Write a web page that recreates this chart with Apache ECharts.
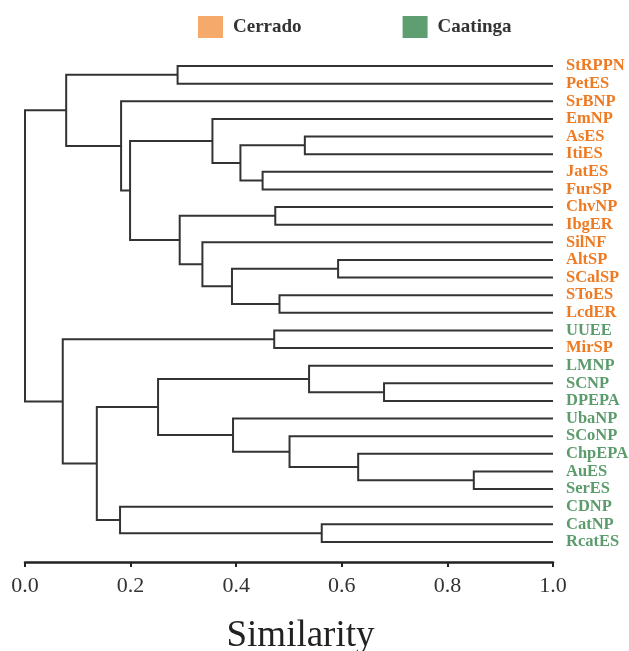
<!DOCTYPE html>
<html>
<head>
<meta charset="utf-8">
<script src="https://cdn.jsdelivr.net/npm/echarts@6/dist/echarts.min.js"></script>
<style>html,body{margin:0;padding:0;background:#fff;}#c{width:629px;height:651px;}</style>
</head>
<body>
<div id="c"></div>
<script>
// Leaves, top to bottom
const leaves = ['StRPPN','PetES','SrBNP','EmNP','AsES','ItiES','JatES','FurSP','ChvNP','IbgER','SilNF','AltSP','SCalSP','SToES','LcdER','UUEE','MirSP','LMNP','SCNP','DPEPA','UbaNP','SCoNP','ChpEPA','AuES','SerES','CDNP','CatNP','RcatES'];
const biome = ['Cerrado','Cerrado','Cerrado','Cerrado','Cerrado','Cerrado','Cerrado','Cerrado','Cerrado','Cerrado','Cerrado','Cerrado','Cerrado','Cerrado','Cerrado','Caatinga','Cerrado','Caatinga','Caatinga','Caatinga','Caatinga','Caatinga','Caatinga','Caatinga','Caatinga','Caatinga','Caatinga','Caatinga'];
// Merges: [id, childA, childB, similarity]
const mergeIds = ['n1','n2','n3','n4','n5','n6','n7','n8','n9','n10','n11','n12','n13','n14','n15','n16','n17','n18','n19','n20','n21','n22','n23','n24','n25','n26','n27'];
const mergeA =   ['StRPPN','AsES','JatES','n2','EmNP','ChvNP','AltSP','SToES','n7','SilNF','n6','n5','SrBNP','n1','UUEE','SCNP','LMNP','AuES','ChpEPA','SCoNP','UbaNP','n17','CatNP','CDNP','n22','n15','n14'];
const mergeB =   ['PetES','ItiES','FurSP','n3','n4','IbgER','SCalSP','LcdER','n8','n9','n10','n11','n12','n13','MirSP','DPEPA','n16','SerES','n18','n19','n20','n21','RcatES','n23','n24','n25','n26'];
const mergeSim = [0.289,0.530,0.450,0.408,0.355,0.474,0.593,0.482,0.392,0.336,0.293,0.199,0.182,0.078,0.472,0.680,0.538,0.850,0.631,0.501,0.394,0.252,0.562,0.180,0.136,0.0715,0.0];
const xTicks = [0, 0.2, 0.4, 0.6, 0.8, 1.0];
const legendNames = ['Cerrado','Caatinga'];
const legendColors = ['#F5A96B','#5E9E70'];
const labelColors = {Cerrado:'#EE7A22', Caatinga:'#5B9B6C'};

// Build node positions from tree structure
const pos = {};
leaves.forEach((n,i)=>{ pos[n] = {x:1.0, y:i}; });
const links = [];
mergeIds.forEach((id,i)=>{
  const a = pos[mergeA[i]], b = pos[mergeB[i]];
  const p = {x: mergeSim[i], y: (a.y + b.y)/2};
  pos[id] = p;
  links.push([p.x, a.y, b.y, a.x, b.x]);
});

const chart = echarts.init(document.getElementById('c'));
const FONT = '"Liberation Serif","Times New Roman",serif';
chart.setOption({
  animation:false,
  backgroundColor:'#fff',
  legend:{
    data:legendNames,
    left:198, top:16, padding:0,
    icon:'rect', itemWidth:25, itemHeight:22, itemGap:101,
    textStyle:{fontFamily:FONT, fontWeight:'bold', fontSize:19, color:'#333', padding:[0,0,0,5]}
  },
  grid:{left:25, right:76, top:66, bottom:109, containLabel:false, outerBoundsMode:'none'},
  xAxis:{
    type:'value', min:xTicks[0], max:xTicks[xTicks.length-1], interval:0.2, offset:20,
    axisLine:{show:true, onZero:false, lineStyle:{color:'#222', width:2.5}},
    axisTick:{show:true, length:5, lineStyle:{color:'#222', width:2}},
    axisLabel:{fontFamily:FONT, fontSize:22, color:'#333', margin:13, formatter:v=>v.toFixed(1)},
    splitLine:{show:false},
    name:'Similarity', nameLocation:'middle', nameGap:56,
    nameTextStyle:{fontFamily:FONT, fontSize:37, color:'#222', padding:[0,0,0,23]}
  },
  yAxis:[
    {type:'value', min:0, max:leaves.length-1, inverse:true, show:false},
    {type:'category', data:leaves, position:'right', inverse:true, boundaryGap:false,
     axisLine:{show:false}, axisTick:{show:false}, splitLine:{show:false},
     axisLabel:{margin:13, interval:0,
       formatter:(v,i)=> (biome[i]==='Cerrado' ? '{o|' : '{g|') + v + '}',
       rich:{
         o:{fontFamily:FONT, fontWeight:'bold', fontSize:16.5, color:labelColors.Cerrado},
         g:{fontFamily:FONT, fontWeight:'bold', fontSize:16.5, color:labelColors.Caatinga}
       }}
    }
  ],
  series:[
    {
      type:'custom', name:'tree', yAxisIndex:0, clip:false, silent:true,
      data:links,
      encode:{x:[0,3,4], y:[1,2]},
      renderItem:function(params, api){
        const p = api.value(0), ya = api.value(1), yb = api.value(2), xa = api.value(3), xb = api.value(4);
        const pts = [api.coord([xa,ya]), api.coord([p,ya]), api.coord([p,yb]), api.coord([xb,yb])];
        return {type:'polyline', shape:{points:pts}, style:{stroke:'#333', lineWidth:2, fill:null}};
      }
    },
    {type:'line', name:legendNames[0], data:[], itemStyle:{color:legendColors[0]}, lineStyle:{color:legendColors[0]}},
    {type:'line', name:legendNames[1], data:[], itemStyle:{color:legendColors[1]}, lineStyle:{color:legendColors[1]}}
  ]
});
</script>
</body>
</html>
